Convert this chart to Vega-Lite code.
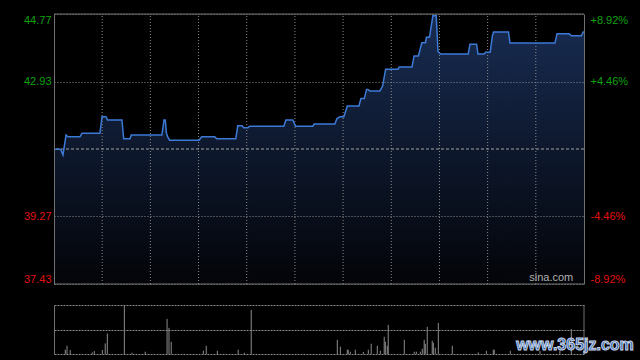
{
  "$schema": "https://vega.github.io/schema/vega-lite/v6.json",
  "width": 530,
  "height": 340,
  "autosize": {"type": "none"},
  "padding": {"left": 54, "top": 14, "right": 56, "bottom": 6},
  "background": "#000000",
  "config": {
    "view": {"stroke": null},
    "axis": {"labelFont": "Liberation Sans", "labelFontSize": 11, "title": null}
  },
  "datasets": {
    "price": [
      {"m": 0, "p": 41.09}, {"m": 4.2, "p": 41.09}, {"m": 5.6, "p": 40.94}, {"m": 7.5, "p": 41.48},
      {"m": 8.7, "p": 41.43}, {"m": 16.2, "p": 41.43}, {"m": 17.4, "p": 41.53}, {"m": 28.6, "p": 41.53},
      {"m": 29.9, "p": 41.98}, {"m": 32.4, "p": 41.98}, {"m": 33.3, "p": 41.89}, {"m": 42.3, "p": 41.89},
      {"m": 43.4, "p": 41.38}, {"m": 47.3, "p": 41.38}, {"m": 48.1, "p": 41.48}, {"m": 67.2, "p": 41.48},
      {"m": 68.5, "p": 41.89}, {"m": 69.3, "p": 41.89}, {"m": 70.0, "p": 41.53}, {"m": 70.8, "p": 41.43},
      {"m": 72.0, "p": 41.34}, {"m": 90.3, "p": 41.34}, {"m": 92.0, "p": 41.43}, {"m": 100.1, "p": 41.43},
      {"m": 101.3, "p": 41.38}, {"m": 113.2, "p": 41.38}, {"m": 114.4, "p": 41.73}, {"m": 117.1, "p": 41.73},
      {"m": 118.1, "p": 41.68}, {"m": 120.8, "p": 41.68}, {"m": 121.9, "p": 41.72}, {"m": 143.1, "p": 41.72},
      {"m": 144.4, "p": 41.89}, {"m": 148.7, "p": 41.89}, {"m": 150.4, "p": 41.72}, {"m": 161.2, "p": 41.72},
      {"m": 162.0, "p": 41.78}, {"m": 174.9, "p": 41.78}, {"m": 176.1, "p": 41.92}, {"m": 178.0, "p": 41.98},
      {"m": 180.5, "p": 41.98}, {"m": 182.6, "p": 42.27}, {"m": 189.9, "p": 42.27}, {"m": 191.1, "p": 42.47},
      {"m": 193.2, "p": 42.47}, {"m": 194.6, "p": 42.72}, {"m": 195.4, "p": 42.72}, {"m": 196.7, "p": 42.68},
      {"m": 202.9, "p": 42.68}, {"m": 204.6, "p": 42.81}, {"m": 206.5, "p": 43.27}, {"m": 214.2, "p": 43.27},
      {"m": 215.0, "p": 43.33}, {"m": 222.9, "p": 43.33}, {"m": 224.2, "p": 43.63}, {"m": 226.9, "p": 43.63},
      {"m": 229.0, "p": 43.99}, {"m": 231.3, "p": 43.99}, {"m": 231.9, "p": 44.14}, {"m": 233.8, "p": 44.14},
      {"m": 235.9, "p": 44.72}, {"m": 238.0, "p": 44.72}, {"m": 239.1, "p": 43.75}, {"m": 240.7, "p": 43.68},
      {"m": 257.9, "p": 43.68}, {"m": 259.0, "p": 43.95}, {"m": 263.1, "p": 43.95}, {"m": 264.0, "p": 43.68},
      {"m": 267.9, "p": 43.68}, {"m": 268.7, "p": 43.73}, {"m": 271.6, "p": 43.73}, {"m": 272.9, "p": 44.17},
      {"m": 273.7, "p": 44.28}, {"m": 283.0, "p": 44.28}, {"m": 283.9, "p": 43.98}, {"m": 311.9, "p": 43.98},
      {"m": 313.2, "p": 44.23}, {"m": 320.8, "p": 44.23}, {"m": 322.1, "p": 44.18}, {"m": 328.4, "p": 44.18},
      {"m": 329.5, "p": 44.28}, {"m": 330, "p": 44.28}
    ],
    "vol": [
      {"m": 7.0, "v": 4.3}, {"m": 8.1, "v": 8.3}, {"m": 10.1, "v": 4}, {"m": 23.8, "v": 1.7},
      {"m": 25.1, "v": 3}, {"m": 30.1, "v": 4}, {"m": 31.9, "v": 10.7}, {"m": 33.2, "v": 20.7},
      {"m": 43.8, "v": 49.3}, {"m": 48.6, "v": 1.3}, {"m": 56.8, "v": 2.3}, {"m": 70.4, "v": 35.3},
      {"m": 71.6, "v": 26.3}, {"m": 73.0, "v": 12.3}, {"m": 93.0, "v": 3.3}, {"m": 94.8, "v": 8.3},
      {"m": 101.7, "v": 3.3}, {"m": 114.7, "v": 4.3}, {"m": 118.5, "v": 1.3}, {"m": 122.8, "v": 44.3},
      {"m": 176.4, "v": 14.3}, {"m": 178.3, "v": 7.3}, {"m": 182.6, "v": 4.3}, {"m": 183.2, "v": 4.3},
      {"m": 184.5, "v": 2.3}, {"m": 187.6, "v": 4.3}, {"m": 192.6, "v": 2}, {"m": 195.7, "v": 4.3},
      {"m": 197.5, "v": 10.3}, {"m": 201.3, "v": 8.3}, {"m": 203.2, "v": 3.3}, {"m": 205.6, "v": 17.3},
      {"m": 206.3, "v": 12.3}, {"m": 207.5, "v": 8.3}, {"m": 208.1, "v": 29.3}, {"m": 218.1, "v": 14.3},
      {"m": 224.3, "v": 2.3}, {"m": 225.6, "v": 2.3}, {"m": 228.1, "v": 2.3}, {"m": 229.3, "v": 5.3},
      {"m": 230.5, "v": 14.3}, {"m": 231.2, "v": 10.3}, {"m": 232.4, "v": 27.3}, {"m": 235.5, "v": 13.3},
      {"m": 236.2, "v": 11.3}, {"m": 237.4, "v": 6.3}, {"m": 239.3, "v": 31.3}, {"m": 248.0, "v": 8.3},
      {"m": 264.2, "v": 1.6}, {"m": 269.2, "v": 3.3}, {"m": 273.5, "v": 4.3}, {"m": 274.1, "v": 4.3},
      {"m": 284.1, "v": 3.3}, {"m": 302.6, "v": 3}, {"m": 315.0, "v": 4}, {"m": 322.1, "v": 25}
    ],
    "grid": [
      {"t": 30}, {"t": 60}, {"t": 90}, {"t": 120}, {"t": 150}, {"t": 180}, {"t": 210}, {"t": 240}, {"t": 270}, {"t": 300}
    ],
    "one": [{}]
  },
  "resolve": {"scale": {"y": "independent"}, "axis": {"y": "independent"}},
  "layer": [
    {
      "data": {"name": "price"},
      "mark": {
        "type": "area",
        "color": {
          "gradient": "linear", "x1": 0, "y1": 0, "x2": 0, "y2": 1,
          "stops": [{"offset": 0, "color": "#182c52"}, {"offset": 1, "color": "#030408"}]
        }
      },
      "encoding": {
        "x": {"field": "m", "type": "quantitative", "scale": {"domain": [0, 330], "nice": false, "zero": false}, "axis": null},
        "y": {
          "field": "p", "type": "quantitative",
          "scale": {"domain": [37.43, 44.77], "range": [270, 0], "nice": false, "zero": false},
          "axis": {
            "orient": "left", "values": [37.43, 39.27, 42.93, 44.77], "format": ".2f",
            "labelFlush": true, "ticks": false, "tickSize": 0, "labelPadding": 3,
            "domain": true, "domainColor": "#707070",
            "grid": true, "gridColor": "#8a8a8a", "gridDash": [1, 2], "zindex": 1,
            "labelColor": {"condition": {"test": "datum.value > 41.1", "value": "#10a010"}, "value": "#e01010"}
          }
        },
        "y2": {"datum": 37.43}
      }
    },
    {
      "data": {"name": "grid"},
      "mark": {"type": "rule", "color": "#8a8a8a", "strokeDash": [1, 2], "strokeWidth": 1},
      "encoding": {
        "x": {"field": "t", "type": "quantitative", "axis": null},
        "y": {"datum": 37.43, "scale": {"domain": [37.43, 44.77], "range": [270, 0], "nice": false, "zero": false}, "axis": null},
        "y2": {"datum": 44.77}
      }
    },
    {
      "data": {"name": "one"},
      "mark": {"type": "rule", "color": "#a0a0a0", "strokeDash": [3, 2], "strokeWidth": 1},
      "encoding": {
        "y": {"datum": 41.1, "scale": {"domain": [37.43, 44.77], "range": [270, 0], "nice": false, "zero": false}, "axis": null}
      }
    },
    {
      "data": {"name": "one"},
      "mark": {"type": "rule", "color": "#707070", "strokeWidth": 1},
      "encoding": {
        "y": {"datum": 44.77, "scale": {"domain": [37.43, 44.77], "range": [270, 0], "nice": false, "zero": false}, "axis": null}
      }
    },
    {
      "data": {"name": "one"},
      "mark": {"type": "rule", "color": "#707070", "strokeWidth": 1},
      "encoding": {
        "y": {"datum": 37.43, "scale": {"domain": [37.43, 44.77], "range": [270, 0], "nice": false, "zero": false}, "axis": null}
      }
    },
    {
      "data": {"name": "price"},
      "mark": {"type": "line", "color": "#3d7ad6", "strokeWidth": 1.5},
      "encoding": {
        "x": {"field": "m", "type": "quantitative", "axis": null},
        "y": {
          "field": "p", "type": "quantitative",
          "scale": {"domain": [37.43, 44.77], "range": [270, 0], "nice": false, "zero": false},
          "axis": {
            "orient": "right", "values": [37.43, 39.27, 42.93, 44.77],
            "labelExpr": "datum.value > 44 ? '+8.92%' : datum.value > 42 ? '+4.46%' : datum.value > 38 ? '-4.46%' : '-8.92%'",
            "labelFlush": true, "ticks": false, "tickSize": 0, "labelPadding": 6,
            "domain": true, "domainColor": "#707070", "grid": false,
            "labelColor": {"condition": {"test": "datum.value > 41.1", "value": "#10a010"}, "value": "#e01010"}
          }
        }
      }
    },
    {
      "data": {"name": "one"},
      "mark": {"type": "text", "text": "sina.com", "align": "right", "baseline": "alphabetic", "font": "Liberation Sans", "fontSize": 11, "color": "#b0b0b0"},
      "encoding": {
        "x": {"datum": 323.3},
        "y": {"datum": 37.525, "scale": {"domain": [37.43, 44.77], "range": [270, 0], "nice": false, "zero": false}, "axis": null}
      }
    },
    {
      "data": {"name": "vol"},
      "mark": {"type": "rule", "color": "#8c8c8c", "strokeWidth": 1},
      "encoding": {
        "x": {"field": "m", "type": "quantitative", "axis": null},
        "y": {
          "field": "v", "type": "quantitative",
          "scale": {"domain": [0, 49.3], "range": [340, 291], "nice": false, "zero": false},
          "axis": {
            "orient": "left", "values": [0, 24.65, 49.3], "labels": false, "ticks": false, "tickSize": 0,
            "domain": true, "domainColor": "#707070",
            "grid": true, "gridColor": "#8a8a8a", "gridDash": [2, 1], "gridWidth": 1
          }
        },
        "y2": {"datum": 0}
      }
    },
    {
      "data": {"name": "one"},
      "mark": {"type": "rule", "color": "#707070", "strokeWidth": 1},
      "encoding": {
        "x": {"datum": 330},
        "y": {"datum": 0, "scale": {"domain": [0, 49.3], "range": [340, 291], "nice": false, "zero": false}, "axis": null},
        "y2": {"datum": 49.3}
      }
    },
    {
      "data": {"name": "one"},
      "mark": {"type": "text", "text": "www.365jz.com", "align": "center", "baseline": "middle", "font": "Liberation Sans", "fontWeight": "bold", "fontSize": 16, "color": "#2f62b0", "stroke": "#c8d4e6", "strokeWidth": 1},
      "encoding": {
        "x": {"datum": 324.4},
        "y": {"datum": 8.8, "scale": {"domain": [0, 49.3], "range": [340, 291], "nice": false, "zero": false}, "axis": null}
      }
    }
  ]
}
